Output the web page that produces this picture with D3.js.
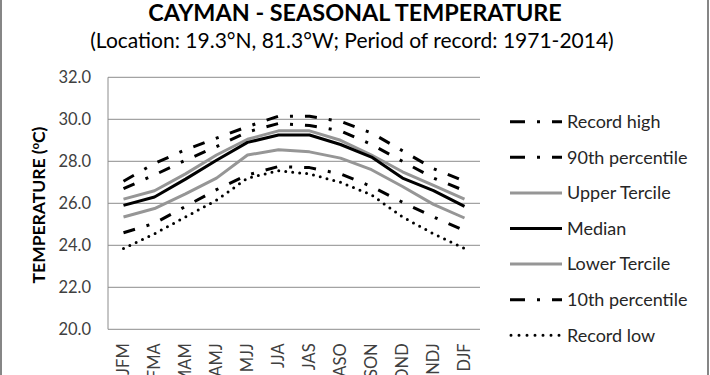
<!DOCTYPE html>
<html><head><meta charset="utf-8">
<script src="https://cdn.jsdelivr.net/npm/d3@7"></script>
<style>body{margin:0;background:#fff}svg{display:block}</style>
</head><body><svg id="c" width="710" height="375"></svg>
<script>
const seasons = ["JFM","FMA","MAM","AMJ","MJJ","JJA","JAS","ASO","SON","OND","NDJ","DJF"];
const recordHigh = [27.05, 27.9, 28.55, 29.1, 29.65, 30.15, 30.15, 29.9, 29.35, 28.5, 27.65, 27.05];
const p90 = [26.7, 27.35, 28.05, 28.7, 29.4, 29.8, 29.7, 29.45, 28.8, 28.0, 27.2, 26.6];
const upperTercile = [26.2, 26.6, 27.4, 28.3, 29.05, 29.45, 29.45, 29.0, 28.3, 27.5, 26.85, 26.2];
const median = [25.9, 26.3, 27.15, 28.05, 28.9, 29.25, 29.25, 28.8, 28.2, 27.2, 26.6, 25.85];
const lowerTercile = [25.35, 25.75, 26.45, 27.2, 28.3, 28.55, 28.45, 28.15, 27.6, 26.8, 25.95, 25.3];
const p10 = [24.6, 25.05, 25.85, 26.65, 27.35, 27.75, 27.7, 27.4, 26.8, 26.05, 25.35, 24.7];
const recordLow = [23.85, 24.55, 25.35, 26.15, 27.2, 27.55, 27.4, 27.0, 26.4, 25.35, 24.55, 23.85];
const yTicks = [20, 22, 24, 26, 28, 30, 32];

const series = [
  {name:"Record high", values:recordHigh, color:"#000", width:3, dash:"12,12,3,12", legDash:"15,12,3,12,15"},
  {name:"90th percentile", values:p90, color:"#000", width:3, dash:"12,12,3,12", legDash:"15,12,3,12,15"},
  {name:"Upper Tercile", values:upperTercile, color:"#969696", width:3, dash:null},
  {name:"Median", values:median, color:"#000", width:3, dash:null},
  {name:"Lower Tercile", values:lowerTercile, color:"#969696", width:3, dash:null},
  {name:"10th percentile", values:p10, color:"#000", width:3, dash:"12,12,3,12", legDash:"15,12,3,12,15"},
  {name:"Record low", values:recordLow, color:"#000", width:3, dash:"0,7", legDash:"0,8", round:true}
];

const svg = d3.select("#c");
const font = "Lato, 'Open Sans', sans-serif";
svg.append("rect").attr("x",0).attr("y",0).attr("width",710).attr("height",375).attr("fill","#fff");
svg.append("rect").attr("x",1).attr("y",-5).attr("width",707).attr("height",390)
  .attr("fill","none").attr("stroke","#868686").attr("stroke-width",2);

const L=108, R=480, T=77.3, B=329.3;
const x = d3.scaleBand().domain(seasons).range([L,R]);
const y = d3.scaleLinear().domain([20,32]).range([B,T]);

// gridlines
svg.append("g").selectAll("line").data(yTicks).join("line")
  .attr("x1",L).attr("x2",R).attr("y1",d=>y(d)).attr("y2",d=>y(d))
  .attr("stroke","#8c8c8c").attr("stroke-width",1);
svg.append("line").attr("x1",L).attr("x2",L).attr("y1",T).attr("y2",B)
  .attr("stroke","#8c8c8c").attr("stroke-width",1);

// y axis labels
const yAxis = d3.axisLeft(y).tickValues(yTicks).tickFormat(d3.format(".1f")).tickSize(0).tickPadding(17);
const gy = svg.append("g").attr("transform",`translate(${L},0)`).call(yAxis);
gy.select(".domain").remove();
gy.selectAll("text").attr("font-family",font).attr("font-size",16.5).attr("fill","#404040");

// x axis labels
const xAxis = d3.axisBottom(x).tickSize(0);
const gx = svg.append("g").attr("transform",`translate(0,${B})`).call(xAxis);
gx.select(".domain").remove();
gx.selectAll("text").attr("font-family",font).attr("font-size",16.5).attr("fill","#404040")
  .attr("transform","rotate(-90)").attr("text-anchor","end").attr("x",-14).attr("y",0).attr("dy","0.35em");

// lines
const line = d3.line().x((d,i)=>x(seasons[i])+x.bandwidth()/2).y(d=>y(d));
const drawOrder = [6,5,4,2,3,1,0];
drawOrder.forEach(k=>{
  const s = series[k];
  svg.append("path").datum(s.values).attr("d",line).attr("fill","none")
    .attr("stroke",s.color).attr("stroke-width",s.width)
    .attr("stroke-dasharray",s.dash)
    .attr("stroke-linecap", s.round ? "round" : "butt")
    .attr("stroke-linejoin","round");
});

// titles
svg.append("text").attr("x",355).attr("y",21).attr("text-anchor","middle")
  .attr("font-family",font).attr("font-weight","bold").attr("font-size",23.4).attr("fill","#000")
  .text("CAYMAN - SEASONAL TEMPERATURE");
svg.append("text").attr("x",352).attr("y",48).attr("text-anchor","middle")
  .attr("font-family",font).attr("font-size",21).attr("fill","#000")
  .text("(Location: 19.3°N, 81.3°W; Period of record: 1971-2014)");

// y title
const yt = svg.append("text").attr("transform","translate(45,205) rotate(-90)").attr("text-anchor","middle")
  .attr("font-family",font).attr("font-weight","bold").attr("font-size",17.5).attr("fill","#000");
yt.append("tspan").text("TEMPERATURE (");
yt.append("tspan").attr("font-size",11).attr("dy",-6).text("o");
yt.append("tspan").attr("dy",6).text("C)");

// legend
const legY0 = 121.7, legStep = 35.6;
series.forEach((s,i)=>{
  const yy = legY0 + i*legStep;
  svg.append("line").attr("x1",s.round ? 511 : 510).attr("x2",562).attr("y1",yy).attr("y2",yy)
    .attr("stroke",s.color).attr("stroke-width",s.width)
    .attr("stroke-dasharray", s.legDash || null)
    .attr("stroke-linecap", s.round ? "round" : "butt");
  svg.append("text").attr("x",567).attr("y",yy).attr("dy","0.35em")
    .attr("font-family",font).attr("font-size",18).attr("fill","#262626").text(s.name);
});
</script></body></html>
